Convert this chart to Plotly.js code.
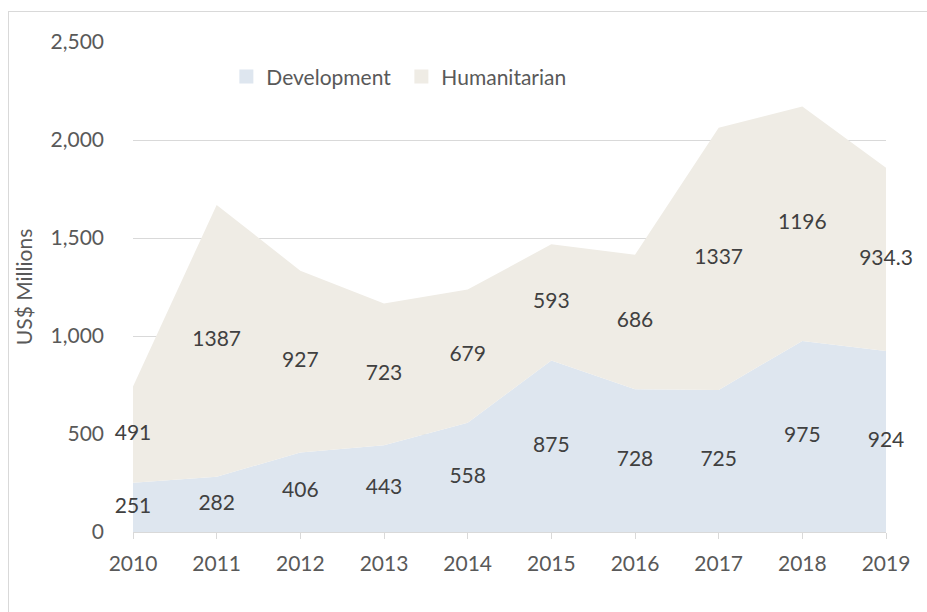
<!DOCTYPE html>
<html>
<head>
<meta charset="utf-8">
<script src="https://cdn.plot.ly/plotly-3.0.1.min.js"></script>
<style>
  html, body { margin: 0; padding: 0; width: 927px; height: 612px; overflow: hidden; background: #fff; }
  #frame { position: absolute; left: 8px; top: 11px; width: 1000px; height: 700px; border-left: 1.5px solid #d9d9d9; border-top: 1.5px solid #d9d9d9; }
  #plot { position: absolute; left: 0; top: 0; width: 927px; height: 612px; }
</style>
</head>
<body>
<div id="frame"></div>
<div id="plot"></div>
<script>
const years = [2010, 2011, 2012, 2013, 2014, 2015, 2016, 2017, 2018, 2019];
const development = [251, 282, 406, 443, 558, 875, 728, 725, 975, 924];
const humanitarian = [491, 1387, 927, 723, 679, 593, 686, 1337, 1196, 934.3];

const devColor = '#dee6ef';
const humColor = '#efece5';
const labelFont = {family: 'Lato, sans-serif', size: 21, color: '#404040'};

// data labels sit in the middle of each band
const devMid = development.map(v => v / 2);
const humMid = humanitarian.map((v, i) => development[i] + v / 2);

const traces = [
  {
    x: years, y: development, name: 'Development',
    type: 'scatter', mode: 'lines', stackgroup: 'one',
    line: {width: 0}, fillcolor: devColor, showlegend: false, hoverinfo: 'x+y'
  },
  {
    x: years, y: humanitarian, name: 'Humanitarian',
    type: 'scatter', mode: 'lines', stackgroup: 'one',
    line: {width: 0}, fillcolor: humColor, showlegend: false, hoverinfo: 'x+y'
  },
  {
    x: years, y: devMid, text: development.map(String),
    type: 'scatter', mode: 'text', textposition: 'middle center',
    textfont: labelFont, showlegend: false, hoverinfo: 'skip', cliponaxis: false
  },
  {
    x: years, y: humMid, text: humanitarian.map(String),
    type: 'scatter', mode: 'text', textposition: 'middle center',
    textfont: labelFont, showlegend: false, hoverinfo: 'skip', cliponaxis: false
  },
  // legend swatches
  {x: [null], y: [null], name: 'Development', type: 'scatter', mode: 'markers',
   marker: {symbol: 'square', size: 14, color: devColor}},
  {x: [null], y: [null], name: 'Humanitarian', type: 'scatter', mode: 'markers',
   marker: {symbol: 'square', size: 14, color: humColor}}
];

const layout = {
  width: 927,
  height: 612,
  margin: {l: 133, r: 41, t: 42, b: 80},
  paper_bgcolor: 'rgba(0,0,0,0)',
  plot_bgcolor: 'rgba(0,0,0,0)',
  font: {family: 'Lato, sans-serif', size: 21, color: '#595959'},
  showlegend: true,
  legend: {
    orientation: 'h', traceorder: 'normal',
    x: 0.124, xanchor: 'left', y: 0.929, yanchor: 'middle',
    bgcolor: 'rgba(0,0,0,0)', font: {size: 21, color: '#595959'}, entrywidth: 130
  },
  xaxis: {
    range: [2010, 2019], tickvals: years, ticktext: years.map(String),
    showgrid: false, zeroline: false,
    showline: true, linecolor: '#d9d9d9', linewidth: 1.3,
    ticks: 'outside', ticklen: 6, tickcolor: '#d9d9d9', tickwidth: 1.3,
    ticklabelstandoff: 7, fixedrange: true
  },
  yaxis: {
    range: [0, 2500], dtick: 500, tickformat: ',',
    showgrid: true, gridcolor: '#d9d9d9', gridwidth: 1.3,
    zeroline: false, showline: false, ticks: '',
    ticklabelstandoff: 28, fixedrange: true,
    title: {text: 'US$ Millions', standoff: 12, font: {size: 21, color: '#595959'}}
  }
};

Plotly.newPlot('plot', traces, layout, {displayModeBar: false, responsive: false});
</script>
</body>
</html>
